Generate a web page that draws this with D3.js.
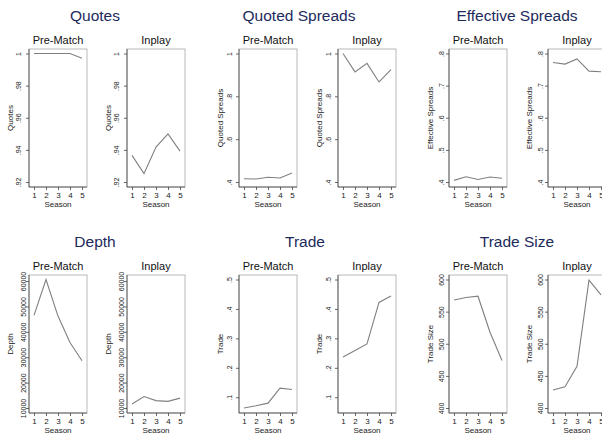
<!DOCTYPE html>
<html>
<head>
<meta charset="utf-8">
<title></title>
<style type="text/css">
  body { margin: 0; background: #fff; }
  text { font-family: "Liberation Sans", Arial, Helvetica, sans-serif; }
</style>
<script src="https://cdnjs.cloudflare.com/ajax/libs/d3/7.8.5/d3.min.js"></script>
</head>
<body>
<svg width="602" height="436"></svg>
<script>
// seasons on the x axis, same for every panel
var seasons = [1, 2, 3, 4, 5];
var panels = ["Pre-Match", "Inplay"];
var measures = ["Quotes", "Quoted Spreads", "Effective Spreads", "Depth", "Trade", "Trade Size"];

// values, [Pre-Match, Inplay]
var quotesPre = [1, 1, 1, 1, .997];
var quotesIn = [.9366, .9252, .9417, .950, .9392];
var quotedPre = [.415, .414, .422, .419, .442];
var quotedIn = [1.0, .914, .954, .867, .925];
var effectivePre = [.405, .4165, .408, .4156, .4115];
var effectiveIn = [.772, .767, .783, .745, .743];
var depthPre = [46500, 60600, 46200, 35800, 28600];
var depthIn = [11600, 14500, 12900, 12600, 13900];
var tradePre = [.0635, .071, .080, .131, .1265];
var tradeIn = [.2365, .259, .281, .422, .444];
var tradeSizePre = [568, 572, 574, 518, 474];
var tradeSizeIn = [428, 433, 465, 599, 576];

// y tick values per measure
var quotesTicks = [.92, .94, .96, .98, 1];
var quotedTicks = [.4, .6, .8, 1];
var effectiveTicks = [.4, .5, .6, .7, .8];
var depthTicks = [10000, 20000, 30000, 40000, 50000, 60000];
var tradeTicks = [.1, .2, .3, .4, .5];
var tradeSizeTicks = [400, 450, 500, 550, 600];

var series = [
    [quotesPre, quotesIn], [quotedPre, quotedIn], [effectivePre, effectiveIn],
    [depthPre, depthIn], [tradePre, tradeIn], [tradeSizePre, tradeSizeIn]
];
var ticks = [quotesTicks, quotedTicks, effectiveTicks, depthTicks, tradeTicks, tradeSizeTicks];

// layout (pixels)
var boxX = [[29, 127], [239, 338], [449, 548]];
var boxY = [49, 275];
var boxW = 58, boxH = 138;
var titleX = [[95, 299, 517], [95, 305, 517]];
var titleY = [21, 247];
var labelOff = [8.5, 7.5, 5.5, 3.5, 7.5, 5];

function stataFmt(v) {
    if (v >= 1000) return d3.format("d")(v);
    var s = String(+v.toFixed(4));
    return s.replace(/^0\./, ".");
}

var svg = d3.select("svg");

function drawPanel(x0, y0, vals, dom, tks, yTitle, sub, off) {
    var g = svg.append("g");
    var x = d3.scaleLinear().domain([1, 5]).range([x0 + 5, x0 + boxW - 5]);
    var y = d3.scaleLinear().domain(dom).range([y0 + boxH - 5, y0 + 4.5]);

    g.append("rect")
        .attr("x", x0).attr("y", y0)
        .attr("width", boxW).attr("height", boxH)
        .attr("fill", "none")
        .attr("stroke", "#a8a8a8")
        .attr("stroke-width", 0.8);

    // axis lines
    g.append("line")
        .attr("x1", x0).attr("x2", x0)
        .attr("y1", y0).attr("y2", y0 + boxH)
        .attr("stroke", "#444").attr("stroke-width", 0.8);
    g.append("line")
        .attr("x1", x0).attr("x2", x0 + boxW)
        .attr("y1", y0 + boxH).attr("y2", y0 + boxH)
        .attr("stroke", "#444").attr("stroke-width", 0.8);

    var ya = g.append("g")
        .attr("transform", "translate(" + x0 + ",0)")
        .call(d3.axisLeft(y).tickValues(tks).tickSize(3).tickSizeOuter(0).tickFormat(stataFmt));
    ya.select(".domain").remove();
    ya.selectAll("line").attr("stroke", "#444").attr("stroke-width", 0.8);
    ya.selectAll("text")
        .attr("x", 0).attr("y", -off).attr("dy", 0)
        .attr("transform", "rotate(-90)")
        .attr("text-anchor", "middle")
        .attr("font-size", 7)
        .attr("fill", "#222");

    var xa = g.append("g")
        .attr("transform", "translate(0," + (y0 + boxH) + ")")
        .call(d3.axisBottom(x).tickValues(seasons).tickSize(3).tickPadding(2).tickSizeOuter(0).tickFormat(d3.format("d")));
    xa.select(".domain").remove();
    xa.selectAll("line").attr("stroke", "#444").attr("stroke-width", 0.8);
    xa.selectAll("text").attr("font-size", 8).attr("fill", "#222");

    g.append("text")
        .attr("x", x0 + boxW / 2).attr("y", y0 + boxH + 19.5)
        .attr("text-anchor", "middle")
        .attr("font-size", 8).attr("fill", "#222")
        .text("Season");

    g.append("text")
        .attr("transform", "translate(" + (x0 - 16) + "," + (y0 + boxH / 2) + ") rotate(-90)")
        .attr("text-anchor", "middle")
        .attr("font-size", 8).attr("fill", "#222")
        .text(yTitle);

    g.append("text")
        .attr("x", x0 + boxW / 2).attr("y", y0 - 5.5)
        .attr("text-anchor", "middle")
        .attr("font-size", 11).attr("fill", "#111")
        .text(sub);

    var line = d3.line()
        .x(function(d, i) { return x(seasons[i]); })
        .y(function(d) { return y(d); });

    g.append("path")
        .attr("d", line(vals))
        .attr("fill", "none")
        .attr("stroke", "#808080")
        .attr("stroke-width", 1.1);
}

measures.forEach(function(m, k) {
    var row = Math.floor(k / 3), col = k % 3;
    var all = series[k][0].concat(series[k][1]);
    var tk = ticks[k];
    var dom = [Math.min(d3.min(all), d3.min(tk)), Math.max(d3.max(all), d3.max(tk))];

    svg.append("text")
        .attr("x", titleX[row][col]).attr("y", titleY[row])
        .attr("text-anchor", "middle")
        .attr("font-size", 15.5)
        .attr("fill", "#1c2a5c")
        .text(m);

    panels.forEach(function(p, j) {
        drawPanel(boxX[col][j], boxY[row], series[k][j], dom, tk, m, p, labelOff[k]);
    });
});
</script>
</body>
</html>
